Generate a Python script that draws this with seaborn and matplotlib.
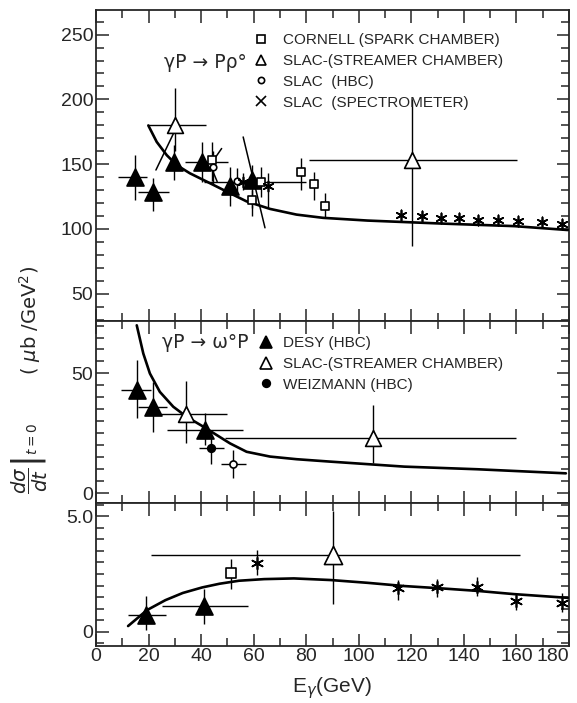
import numpy as np
import matplotlib
matplotlib.use('Agg')
import matplotlib.pyplot as plt
from matplotlib.lines import Line2D
from matplotlib.ticker import MultipleLocator, FixedLocator
import seaborn as sns

# ---------------- top panel: gamma p -> p rho0 ----------------
rho_desy_x = [14.8, 21.5, 29.7, 40.2, 51.0, 59.4]
rho_desy_y = [140.4, 128.9, 151.9, 151.9, 132.8, 137.9]
rho_desy_xlo = [8.5, 16.1, 29.7, 33.8, 51.0, 59.4]
rho_desy_xhi = [19.3, 27.9, 29.7, 50.3, 51.0, 59.4]
rho_desy_ylo = [122.6, 114.0, 137.9, 136.6, 117.5, 116.2]
rho_desy_yhi = [157.0, 139.3, 164.6, 167.0, 148.0, 149.3]

rho_slac_sc_x = [30.0, 120.4]
rho_slac_sc_y = [180.0, 153.2]
rho_slac_sc_xlo = [19.9, 80.9]
rho_slac_sc_xhi = [41.8, 160.3]
rho_slac_sc_ylo = [160.0, 86.9]
rho_slac_sc_yhi = [208.7, 200.3]

rho_cornell_x = [44.0, 59.2, 62.7, 78.1, 83.0, 87.2]
rho_cornell_y = [153.2, 122.6, 136.6, 144.2, 134.5, 117.5]
rho_cornell_xlo = [44.0, 59.2, 41.0, 78.1, 83.0, 87.2]
rho_cornell_xhi = [44.0, 59.2, 80.0, 78.1, 83.0, 87.2]
rho_cornell_ylo = [137.0, 109.8, 125.0, 130.2, 122.5, 108.5]
rho_cornell_yhi = [167.0, 130.2, 148.0, 154.4, 144.1, 127.6]

rho_hbc_x = [44.6, 53.5]
rho_hbc_y = [147.6, 137.1]
rho_hbc_ylo = [135.0, 127.0]
rho_hbc_yhi = [160.0, 147.0]

rho_spec_x = [56.0, 65.5, 116.2, 124.0, 131.3, 138.2, 145.5, 152.9, 160.6, 169.7, 177.4]
rho_spec_y = [136.6, 133.3, 111.1, 109.8, 108.6, 108.6, 107.3, 106.8, 106.0, 105.2, 104.2]
rho_spec_ylo = [130.0, 116.2, 107.0, 106.0, 105.0, 105.0, 104.0, 103.5, 103.0, 102.0, 101.0]
rho_spec_yhi = [143.0, 143.0, 115.0, 113.5, 112.0, 112.0, 110.5, 110.0, 109.0, 108.5, 107.5]

rho_band_a_x = [22.8, 30.4]
rho_band_a_y = [145.5, 177.6]
rho_band_b_x = [45.2, 47.8]
rho_band_b_y = [154.5, 162.1]
rho_band_c_x = [56.0, 64.3]
rho_band_c_y = [171.0, 100.9]
rho_band_d_x = [44.0, 46.1]
rho_band_d_y = [146.8, 136.6]

rho_curve_x = [19.9, 23.1, 26.9, 30.7, 35.7, 42.1, 49.7, 57.3, 66.2, 76.3,
               86.4, 103.3, 131.3, 159.2, 179.5]
rho_curve_y = [179.9, 167.2, 157.0, 149.3, 143.0, 136.6, 128.9, 121.3, 115.5, 111.1,
               108.6, 106.5, 104.2, 102.2, 99.2]

# ---------------- middle panel: gamma p -> omega p ----------------
om_desy_x = [15.7, 21.5, 41.5]
om_desy_y = [43.0, 36.1, 26.4]
om_desy_xlo = [9.6, 15.9, 27.1]
om_desy_xhi = [21.1, 27.1, 56.1]
om_desy_ylo = [31.2, 25.7, 20.1]
om_desy_yhi = [55.5, 46.5, 33.3]

om_slac_x = [34.4, 105.4]
om_slac_y = [33.0, 22.9]
om_slac_xlo = [19.2, 49.1]
om_slac_xhi = [49.8, 159.9]
om_slac_ylo = [20.8, 12.5]
om_slac_yhi = [46.9, 36.8]

om_weiz_x = [43.6]
om_weiz_y = [18.7]
om_weiz_xlo = [39.0]
om_weiz_xhi = [48.8]
om_weiz_ylo = [12.2]
om_weiz_yhi = [23.6]

om_hbc_x = [52.3]
om_hbc_y = [12.2]
om_hbc_xlo = [47.7]
om_hbc_xhi = [56.9]
om_hbc_ylo = [6.2]
om_hbc_yhi = [18.0]

om_curve_x = [15.5, 18.0, 20.5, 24.3, 29.4, 34.5, 40.8, 45.9, 51.0, 57.3,
              66.2, 76.3, 89.0, 117.3, 145.2, 178.8]
om_curve_y = [70.1, 58.3, 50.0, 42.3, 36.1, 31.9, 27.8, 24.3, 20.8, 17.3,
              15.3, 14.2, 13.2, 11.1, 10.0, 8.3]

# ---------------- bottom panel ----------------
bt_desy_x = [19.2, 41.1]
bt_desy_y = [0.72, 1.11]
bt_desy_xlo = [12.2, 25.0]
bt_desy_xhi = [26.7, 57.9]
bt_desy_ylo = [0.07, 0.33]
bt_desy_yhi = [1.55, 1.84]

bt_cornell_x = [51.3]
bt_cornell_y = [2.55]
bt_cornell_ylo = [1.84]
bt_cornell_yhi = [3.13]

bt_slac_x = [90.0]
bt_slac_y = [3.32]
bt_slac_xlo = [20.8]
bt_slac_xhi = [161.3]
bt_slac_ylo = [1.2]
bt_slac_yhi = [5.24]

bt_spec_x = [61.1, 114.8, 129.9, 145.0, 159.9, 177.4]
bt_spec_y = [2.99, 1.88, 1.92, 1.92, 1.34, 1.26]
bt_spec_ylo = [2.45, 1.37, 1.50, 1.55, 0.95, 0.85]
bt_spec_yhi = [3.54, 2.24, 2.30, 2.35, 1.70, 1.70]

bt_curve_x = [12.2, 19.4, 26.4, 33.0, 40.4, 47.0, 54.4, 64.0, 75.3, 89.3, 103.3,
              117.3, 131.3, 145.2, 159.2, 179.5]
bt_curve_y = [0.25, 0.94, 1.37, 1.68, 1.92, 2.08, 2.21, 2.28, 2.31, 2.24, 2.12,
              1.98, 1.88, 1.77, 1.63, 1.47]

x_ticks = [0, 20, 40, 60, 80, 100, 120, 140, 160, 180]

sns.set_style('ticks')
FONT = ['Liberation Sans', 'DejaVu Sans']
plt.rcParams['font.family'] = FONT
plt.rcParams['mathtext.fontset'] = 'dejavusans'

ASTER = (6, 2, 0)


def data_points(ax, x, y, marker, face, size, xlo=None, xhi=None, ylo=None, yhi=None, lw=1.2):
    x = np.asarray(x, float)
    y = np.asarray(y, float)
    xerr = None if xlo is None else [x - np.asarray(xlo), np.asarray(xhi) - x]
    yerr = None if ylo is None else [y - np.asarray(ylo), np.asarray(yhi) - y]
    ax.errorbar(x, y, xerr=xerr, yerr=yerr, fmt='none', ecolor='black',
                elinewidth=1.0, capsize=0, zorder=2)
    if face == 'line':
        sns.scatterplot(x=x, y=y, marker=marker, s=size, color='black',
                        linewidth=lw, ax=ax, zorder=4)
    else:
        sns.scatterplot(x=x, y=y, marker=marker, s=size, color=face,
                        edgecolor='black', linewidth=lw, ax=ax, zorder=4)


def curve(ax, x, y, lw=1.9):
    sns.lineplot(x=x, y=y, ax=ax, color='black', lw=lw, sort=False,
                 estimator=None, zorder=3)


fig = plt.figure(figsize=(5.77, 7.03), dpi=100)
ax_top = fig.add_axes([0.1664, 0.5434, 0.8198, 0.4424])
ax_mid = fig.add_axes([0.1664, 0.2841, 0.8198, 0.2593])
ax_bot = fig.add_axes([0.1664, 0.0815, 0.8198, 0.2026])

# top panel
curve(ax_top, rho_curve_x, rho_curve_y)
for bx, by in [(rho_band_a_x, rho_band_a_y), (rho_band_b_x, rho_band_b_y),
               (rho_band_c_x, rho_band_c_y), (rho_band_d_x, rho_band_d_y)]:
    curve(ax_top, bx, by, lw=1.1)
data_points(ax_top, rho_desy_x, rho_desy_y, '^', 'black', 150,
            rho_desy_xlo, rho_desy_xhi, rho_desy_ylo, rho_desy_yhi)
data_points(ax_top, rho_slac_sc_x, rho_slac_sc_y, '^', 'white', 130,
            rho_slac_sc_xlo, rho_slac_sc_xhi, rho_slac_sc_ylo, rho_slac_sc_yhi)
data_points(ax_top, rho_cornell_x, rho_cornell_y, 's', 'white', 40,
            rho_cornell_xlo, rho_cornell_xhi, rho_cornell_ylo, rho_cornell_yhi)
data_points(ax_top, rho_hbc_x, rho_hbc_y, 'o', 'white', 22,
            ylo=rho_hbc_ylo, yhi=rho_hbc_yhi)
data_points(ax_top, rho_spec_x, rho_spec_y, ASTER, 'line', 55,
            ylo=rho_spec_ylo, yhi=rho_spec_yhi)

# middle panel
curve(ax_mid, om_curve_x, om_curve_y)
data_points(ax_mid, om_desy_x, om_desy_y, '^', 'black', 150,
            om_desy_xlo, om_desy_xhi, om_desy_ylo, om_desy_yhi)
data_points(ax_mid, om_slac_x, om_slac_y, '^', 'white', 130,
            om_slac_xlo, om_slac_xhi, om_slac_ylo, om_slac_yhi)
data_points(ax_mid, om_weiz_x, om_weiz_y, 'o', 'black', 30,
            om_weiz_xlo, om_weiz_xhi, om_weiz_ylo, om_weiz_yhi)
data_points(ax_mid, om_hbc_x, om_hbc_y, 'o', 'white', 26,
            om_hbc_xlo, om_hbc_xhi, om_hbc_ylo, om_hbc_yhi)

# bottom panel
curve(ax_bot, bt_curve_x, bt_curve_y)
data_points(ax_bot, bt_desy_x, bt_desy_y, '^', 'black', 150,
            bt_desy_xlo, bt_desy_xhi, bt_desy_ylo, bt_desy_yhi)
data_points(ax_bot, bt_cornell_x, bt_cornell_y, 's', 'white', 45,
            ylo=bt_cornell_ylo, yhi=bt_cornell_yhi)
data_points(ax_bot, bt_slac_x, bt_slac_y, '^', 'white', 170,
            bt_slac_xlo, bt_slac_xhi, bt_slac_ylo, bt_slac_yhi)
data_points(ax_bot, bt_spec_x, bt_spec_y, ASTER, 'line', 70,
            ylo=bt_spec_ylo, yhi=bt_spec_yhi)

# axes styling
limits = {ax_top: (29, 269), ax_mid: (-4.2, 71.9), ax_bot: (-0.6, 5.56)}
for ax in (ax_top, ax_mid, ax_bot):
    ax.set_xlim(0, 180)
    ax.set_ylim(*limits[ax])
    ax.xaxis.set_major_locator(FixedLocator(x_ticks))
    ax.xaxis.set_minor_locator(MultipleLocator(10))
    ax.tick_params(which='both', direction='in', top=True, right=True,
                   width=1.1, labelsize=14, pad=2)
    ax.tick_params(which='major', length=9)
    ax.tick_params(which='minor', length=6)
    for sp in ax.spines.values():
        sp.set_linewidth(1.3)
    ax.set_xlabel('')
    ax.set_ylabel('')

ax_top.set_yticks([50, 100, 150, 200, 250])
ax_top.yaxis.set_minor_locator(MultipleLocator(10))
ax_mid.set_yticks([0, 50])
ax_mid.yaxis.set_minor_locator(MultipleLocator(5))
ax_bot.set_yticks([0, 5])
ax_bot.set_yticklabels(['0', '5.0'])
ax_bot.yaxis.set_minor_locator(MultipleLocator(0.5))
ax_top.tick_params(labelbottom=False)
ax_mid.tick_params(labelbottom=False)
xlabels = ax_bot.set_xticklabels([str(t) for t in x_ticks])
xlabels[-1].set_horizontalalignment('right')

# legends
top_handles = [
    Line2D([], [], ls='none', marker='s', ms=6, mfc='white', mec='black', mew=1.2),
    Line2D([], [], ls='none', marker='^', ms=7, mfc='white', mec='black', mew=1.2),
    Line2D([], [], ls='none', marker='o', ms=4.5, mfc='white', mec='black', mew=1.2),
    Line2D([], [], ls='none', marker='x', ms=7, mec='black', mew=1.2),
]
top_labels = ['CORNELL (SPARK CHAMBER)', 'SLAC-(STREAMER CHAMBER)',
              'SLAC  (HBC)', 'SLAC  (SPECTROMETER)']
ax_top.legend(top_handles, top_labels, loc='upper left',
              bbox_to_anchor=(0.4385, 0.953), bbox_transform=fig.transFigure,
              frameon=False, fontsize=11, handlelength=1.1, handletextpad=0.85,
              labelspacing=0.45, borderpad=0, borderaxespad=0)

mid_handles = [
    Line2D([], [], ls='none', marker='^', ms=8, mfc='black', mec='black', mew=1.2),
    Line2D([], [], ls='none', marker='^', ms=8, mfc='white', mec='black', mew=1.2),
    Line2D([], [], ls='none', marker='o', ms=5.5, mfc='black', mec='black', mew=1.2),
]
mid_labels = ['DESY (HBC)', 'SLAC-(STREAMER CHAMBER)', 'WEIZMANN (HBC)']
ax_mid.legend(mid_handles, mid_labels, loc='upper left',
              bbox_to_anchor=(0.446, 0.522), bbox_transform=fig.transFigure,
              frameon=False, fontsize=11, handlelength=1.1, handletextpad=0.55,
              labelspacing=0.45, borderpad=0, borderaxespad=0)

# reaction labels
fig.text(0.284, 1 - 63 / 703, 'γP → Pρ°', fontsize=13.5, ha='left', va='center',
         family=['DejaVu Sans'])
fig.text(0.281, 1 - 342 / 703, 'γP → ω°P', fontsize=13.5, ha='left', va='center',
         family=['DejaVu Sans'])

# axis titles
fig.text(0.052, 1 - 320 / 703, r'( $\mu$b /GeV$^2$)', rotation=90,
         ha='center', va='center', fontsize=14, family='DejaVu Sans')
fig.text(0.052, 1 - 458 / 703, r'$\left.\dfrac{d\sigma}{dt}\right|_{t=0}$',
         rotation=90, ha='center', va='center', fontsize=14, family='DejaVu Sans')
fig.text(0.575, 0.021, r'E$_\gamma$(GeV)', ha='center', va='center',
         fontsize=15, family=FONT)

fig.savefig('out.png', dpi=100)
